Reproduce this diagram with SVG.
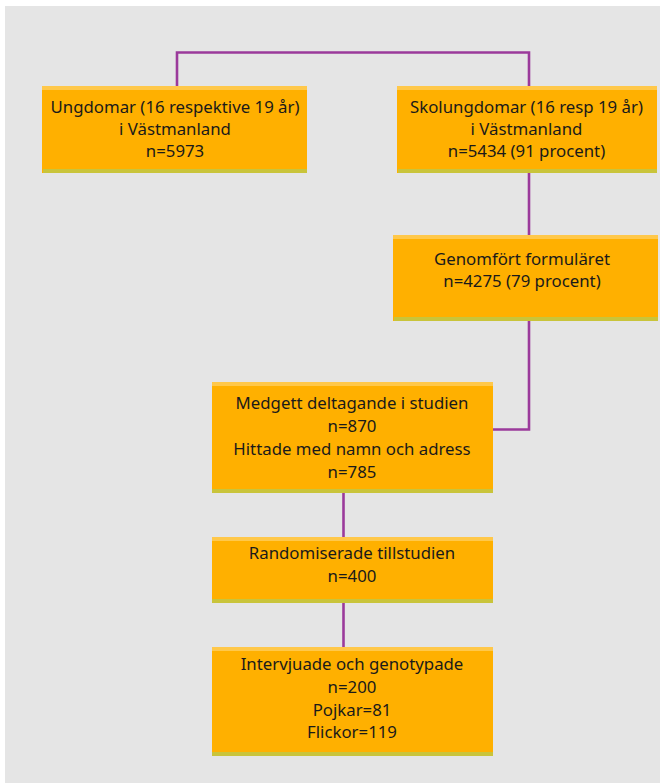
<svg xmlns="http://www.w3.org/2000/svg" width="660" height="783" viewBox="0 0 660 783">
<style>
.box{fill:#FFB000}
.top{fill:#FFC84A}
.bot{fill:#C9C43A}
.t{font-family:"Noto Sans","Open Sans","Liberation Sans",sans-serif;font-size:16.8px;fill:#1a1a1a;text-anchor:middle}
.c{fill:none;stroke:#9B3A9B;stroke-width:2.6}
</style>
<rect x="0" y="0" width="660" height="783" fill="#ffffff"/>
<rect x="5" y="6" width="655" height="777" fill="#E5E5E5"/>
<g id="connectors">
<polyline class="c" points="177,86 177,52.5 529,52.5 529,86"/>
<line class="c" x1="529" y1="173" x2="529" y2="235"/>
<polyline class="c" points="529,321 529,429.5 493,429.5"/>
<line class="c" x1="343.5" y1="493" x2="343.5" y2="537"/>
<line class="c" x1="343.5" y1="603" x2="343.5" y2="647"/>
</g>
<g id="n1">
<rect class="box" x="42" y="86" width="265" height="87"/>
<rect class="top" x="42" y="86" width="265" height="4"/>
<rect class="bot" x="43" y="169" width="264" height="4"/>
<text class="t" x="175" y="113">Ungdomar (16 respektive 19 år)</text>
<text class="t" x="175" y="135">i Västmanland</text>
<text class="t" x="175" y="157">n=5973</text>
</g>
<g id="n2">
<rect class="box" x="397" y="86" width="260" height="87"/>
<rect class="top" x="397" y="86" width="260" height="4"/>
<rect class="bot" x="398" y="169" width="259" height="4"/>
<text class="t" x="526.5" y="113">Skolungdomar (16 resp 19 år)</text>
<text class="t" x="526.5" y="135">i Västmanland</text>
<text class="t" x="526.5" y="157">n=5434 (91 procent)</text>
</g>
<g id="n3">
<rect class="box" x="393" y="235" width="265" height="86"/>
<rect class="top" x="393" y="235" width="265" height="4"/>
<rect class="bot" x="394" y="317" width="264" height="4"/>
<text class="t" x="522" y="265">Genomfört formuläret</text>
<text class="t" x="522" y="287">n=4275 (79 procent)</text>
</g>
<g id="n4">
<rect class="box" x="212" y="382" width="281" height="111"/>
<rect class="top" x="212" y="382" width="281" height="4"/>
<rect class="bot" x="212" y="489" width="281" height="4"/>
<text class="t" x="352" y="409">Medgett deltagande i studien</text>
<text class="t" x="352" y="432">n=870</text>
<text class="t" x="352" y="455">Hittade med namn och adress</text>
<text class="t" x="352" y="478">n=785</text>
</g>
<g id="n5">
<rect class="box" x="212" y="537" width="281" height="66"/>
<rect class="top" x="212" y="537" width="281" height="4"/>
<rect class="bot" x="212" y="599" width="281" height="4"/>
<text class="t" x="352" y="559">Randomiserade tillstudien</text>
<text class="t" x="352" y="582">n=400</text>
</g>
<g id="n6">
<rect class="box" x="212" y="647" width="281" height="109"/>
<rect class="top" x="212" y="647" width="281" height="4"/>
<rect class="bot" x="212" y="752" width="281" height="4"/>
<text class="t" x="352" y="670">Intervjuade och genotypade</text>
<text class="t" x="352" y="693">n=200</text>
<text class="t" x="352" y="716">Pojkar=81</text>
<text class="t" x="352" y="738">Flickor=119</text>
</g>
</svg>
